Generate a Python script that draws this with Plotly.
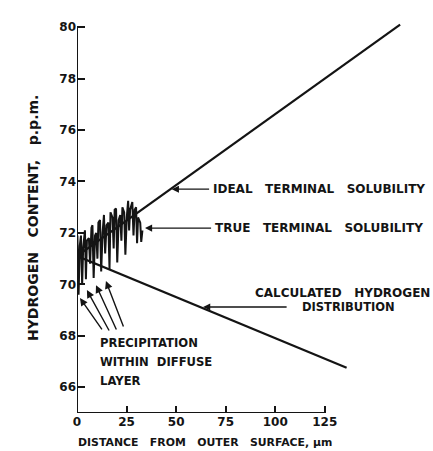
import plotly.graph_objects as go

# Hydrogen content vs distance from outer surface
ideal_x = [0, 163]
ideal_y = [71.1, 80.1]

calc_x = [0, 136]
calc_y = [71.1, 66.76]

# jagged "true terminal solubility" trace across the diffuse layer
true_x = [0.2, 0.8, 1.4, 2.0, 2.6, 3.1, 4.0, 4.5, 5.0, 6.0, 6.6, 7.3, 7.8, 8.4,
          9.1, 9.7, 10.3, 10.8, 11.6, 12.2, 12.9, 13.6, 14.2, 14.9, 15.8, 16.4,
          16.9, 17.9, 18.5, 19.0, 19.7, 20.3, 21.0, 21.8, 22.4, 22.9, 23.8, 24.4,
          25.1, 25.8, 26.3, 26.8, 27.9, 28.5, 29.1, 29.8, 30.3, 30.8, 31.9, 32.4,
          33.0]
true_y = [71.9, 69.6, 71.5, 71.9, 70.0, 71.4, 72.1, 70.2, 71.7, 71.8, 70.8, 72.2,
          72.3, 70.25, 71.9, 72.0, 71.0, 72.4, 72.5, 70.5, 72.0, 72.7, 71.2, 72.3,
          72.4, 70.6, 72.8, 72.6, 71.4, 72.9, 72.95, 70.85, 72.5, 72.7, 71.7, 73.0,
          72.8, 71.15, 72.6, 73.25, 72.1, 72.9, 73.2, 71.9, 72.9, 73.0, 71.6, 72.6,
          72.4, 71.65, 72.1]

x_ticks = [0, 25, 50, 75, 100, 125]
x_tick_text = ["0", "25", "50", "75", "100", "125"]
y_ticks = [66, 68, 70, 72, 74, 76, 78, 80]

# precipitation arrows: (tail x, tail y, tip x, tip y)
precip_arrows = [
    (13.1, 68.19, 1.5, 69.47),
    (16.6, 68.15, 5.0, 69.78),
    (20.2, 68.19, 9.6, 69.97),
    (23.7, 68.30, 14.6, 70.13),
]

FONT = "DejaVu Sans"
INK = "#141414"
GAP = " \u00a0 "
GAP2 = " \u00a0"

def bold(s):
    return "<b>" + s + "</b>"

fig = go.Figure()
fig.add_trace(go.Scatter(x=ideal_x, y=ideal_y, mode="lines",
                         line=dict(color=INK, width=2.2), hoverinfo="skip"))
fig.add_trace(go.Scatter(x=calc_x, y=calc_y, mode="lines",
                         line=dict(color=INK, width=2.2), hoverinfo="skip"))
fig.add_trace(go.Scatter(x=true_x, y=true_y, mode="lines",
                         line=dict(color=INK, width=2.0), hoverinfo="skip"))

# axis lines
fig.add_shape(type="line", x0=0, x1=0, y0=65, y1=80, xref="x", yref="y",
              line=dict(color=INK, width=2))
fig.add_shape(type="line", x0=0, x1=125, y0=65, y1=65, xref="x", yref="y",
              line=dict(color=INK, width=2))

def label(x, y, text, size=12):
    fig.add_annotation(x=x, y=y, xref="x", yref="y", text=bold(text), showarrow=False,
                       xanchor="left", yanchor="middle",
                       font=dict(family=FONT, size=size, color=INK))

def pointer(x0, y0, x1, y1, width=1.3):
    fig.add_annotation(x=x1, y=y1, ax=x0, ay=y0, xref="x", yref="y",
                       axref="x", ayref="y", text="", showarrow=True,
                       arrowhead=2, arrowsize=1.1, arrowwidth=width,
                       arrowcolor=INK, standoff=0)

label(67.6, 73.7, GAP.join(["IDEAL", "TERMINAL", "SOLUBILITY"]))
pointer(67.4, 73.7, 47.8, 73.7)

label(68.6, 72.19, GAP.join(["TRUE", "TERMINAL", "SOLUBILITY"]))
pointer(68.4, 72.19, 34.3, 72.19)

label(88.8, 69.66, GAP.join(["CALCULATED", "HYDROGEN"]))
label(112.5, 69.12, "DISTRIBUTION", size=11.5)
pointer(106.5, 69.12, 63.6, 69.12)

label(10.6, 67.72, "PRECIPITATION", size=11.6)
label(10.6, 66.98, GAP2.join(["WITHIN", "DIFFUSE"]), size=11.6)
label(10.6, 66.24, "LAYER", size=11.6)
for tx, ty, hx, hy in precip_arrows:
    pointer(tx, ty, hx, hy, width=1.4)

# axis titles
fig.add_annotation(x=-44 / 337, y=(413 - 218) / 391, xref="paper", yref="paper",
                   text=bold(GAP.join(["HYDROGEN", "CONTENT,", "p.p.m."])),
                   showarrow=False, textangle=-90,
                   xanchor="center", yanchor="middle",
                   font=dict(family=FONT, size=14, color=INK))
fig.add_annotation(x=-1 / 337, y=-(442 - 413) / 391, xref="paper", yref="paper",
                   text=bold(GAP.join(["DISTANCE", "FROM", "OUTER", "SURFACE, \u03bcm"])),
                   showarrow=False,
                   xanchor="left", yanchor="middle",
                   font=dict(family=FONT, size=10.9, color=INK))

fig.update_layout(
    width=433, height=451,
    margin=dict(l=77, r=19, t=22, b=38),
    paper_bgcolor="white", plot_bgcolor="white",
    showlegend=False,
    xaxis=dict(range=[0, 170], tickvals=x_ticks, ticktext=[bold(t) for t in x_tick_text],
               ticks="inside", ticklen=7, tickwidth=1.5, tickcolor=INK,
               showgrid=False, zeroline=False, showline=False,
               tickfont=dict(family=FONT, size=12, color=INK)),
    yaxis=dict(range=[65, 80.2], tickvals=y_ticks,
               ticktext=[bold(str(v)) for v in y_ticks],
               ticks="inside", ticklen=8, tickwidth=1.5, tickcolor=INK,
               showgrid=False, zeroline=False, showline=False,
               tickfont=dict(family=FONT, size=12, color=INK)),
)

fig.write_html("out.html")
